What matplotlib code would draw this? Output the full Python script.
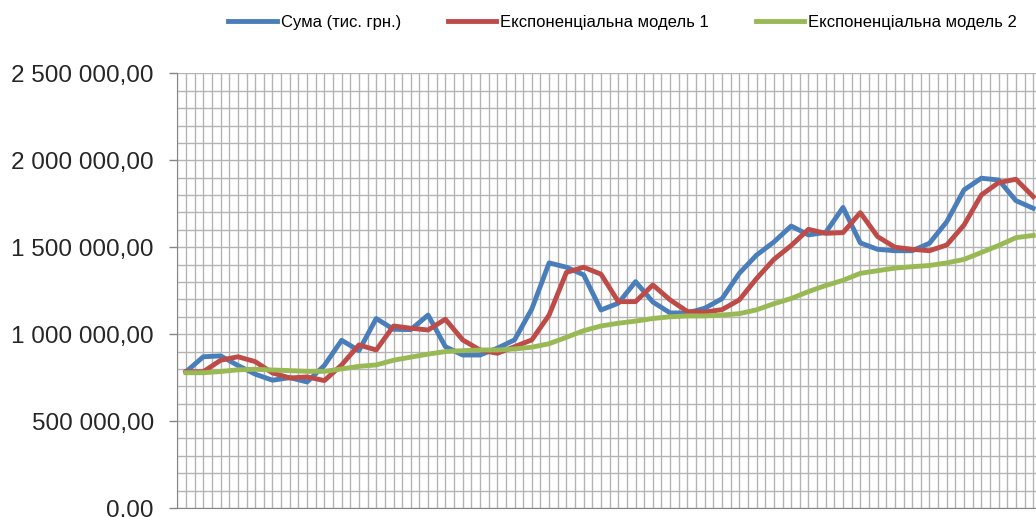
import matplotlib
matplotlib.use("Agg")
import matplotlib.pyplot as plt
from matplotlib.ticker import MultipleLocator, FuncFormatter
import numpy as np

# ---- data (values in millions of UAH thousands) ----
suma = [0.784, 0.870, 0.875, 0.82, 0.77, 0.735, 0.75, 0.725, 0.82, 0.965,
        0.905, 1.090, 1.028, 1.026, 1.110, 0.928, 0.880, 0.880, 0.919, 0.967,
        1.145, 1.410, 1.385, 1.341, 1.139, 1.178, 1.302, 1.185, 1.122, 1.122,
        1.149, 1.204, 1.350, 1.455, 1.530, 1.622, 1.571, 1.585, 1.729, 1.525,
        1.488, 1.480, 1.480, 1.523, 1.647, 1.830, 1.897, 1.887, 1.768, 1.724]
model1 = [0.784, 0.784, 0.850, 0.870, 0.842, 0.777, 0.748, 0.754, 0.733, 0.823,
          0.938, 0.909, 1.047, 1.034, 1.024, 1.086, 0.967, 0.909, 0.890, 0.928,
          0.967, 1.110, 1.355, 1.385, 1.345, 1.187, 1.187, 1.283, 1.197, 1.130,
          1.127, 1.141, 1.197, 1.320, 1.430, 1.510, 1.603, 1.580, 1.584, 1.699,
          1.561, 1.500, 1.488, 1.480, 1.513, 1.628, 1.801, 1.872, 1.891, 1.791]
model2 = [0.778, 0.778, 0.785, 0.795, 0.798, 0.794, 0.790, 0.786, 0.786, 0.800,
          0.815, 0.823, 0.850, 0.868, 0.885, 0.900, 0.905, 0.909, 0.909, 0.915,
          0.925, 0.945, 0.982, 1.020, 1.047, 1.063, 1.075, 1.090, 1.100, 1.105,
          1.105, 1.110, 1.118, 1.140, 1.175, 1.205, 1.245, 1.280, 1.310, 1.350,
          1.365, 1.380, 1.388, 1.395, 1.410, 1.430, 1.470, 1.510, 1.555, 1.568]
labels = ["Сума (тис. грн.)", "Експоненціальна модель 1", "Експоненціальна модель 2"]
colors = ["#4A7EBB", "#BE4B48", "#98B954"]

suma = np.array(suma) * 1e6
model1 = np.array(model1) * 1e6
model2 = np.array(model2) * 1e6
x = np.arange(len(suma))

W, H = 1036, 517
fig = plt.figure(figsize=(W / 100, H / 100), dpi=100)
left_px, right_px, top_px, bot_px = 177.4, 1036, 73.4, 508
ax = fig.add_axes([left_px / W, 1 - bot_px / H, (right_px - left_px) / W, (bot_px - top_px) / H])

grid_c = "#b4b4b4"
for s, c, lab in zip([suma, model1, model2], colors, labels):
    ax.plot(x, s, color=c, lw=3.5, label=lab, solid_joinstyle="round", zorder=3)

ax.set_xlim(-0.5, (1036 - 186) / 17.29)
ax.set_ylim(0, 2.5e6)
ax.yaxis.set_major_locator(MultipleLocator(5e5))
ax.yaxis.set_minor_locator(MultipleLocator(1e5))
ax.xaxis.set_major_locator(MultipleLocator(0.5))


def fmt(v, pos):
    s = f"{v:,.2f}"
    return s.replace(",", " ").replace(".", ",")


ax.yaxis.set_major_formatter(FuncFormatter(fmt))
ax.grid(True, which="major", axis="both", color=grid_c, lw=1.0)
ax.grid(True, which="minor", axis="y", color=grid_c, lw=1.0)
ax.set_axisbelow(True)
ax.tick_params(axis="x", which="both", length=0, labelbottom=False)
ax.tick_params(axis="y", which="major", length=6, width=1, color="#868686",
               pad=11, labelsize=17.5, labelcolor="#262626")
ax.tick_params(axis="y", which="minor", length=0)
for t in ax.get_yticklabels():
    t.set_family("Liberation Sans")
for sp in ["top", "right"]:
    ax.spines[sp].set_visible(False)
for sp in ["left", "bottom"]:
    ax.spines[sp].set_color("#868686")

fig.legend(loc="center left", bbox_to_anchor=(220 / W, 1 - 22 / H), ncol=3,
           frameon=False, borderpad=0, handlelength=2.9, handletextpad=0.25,
           columnspacing=2.8, prop={"family": "Liberation Sans", "size": 12})

fig.savefig("out.png", dpi=100)
